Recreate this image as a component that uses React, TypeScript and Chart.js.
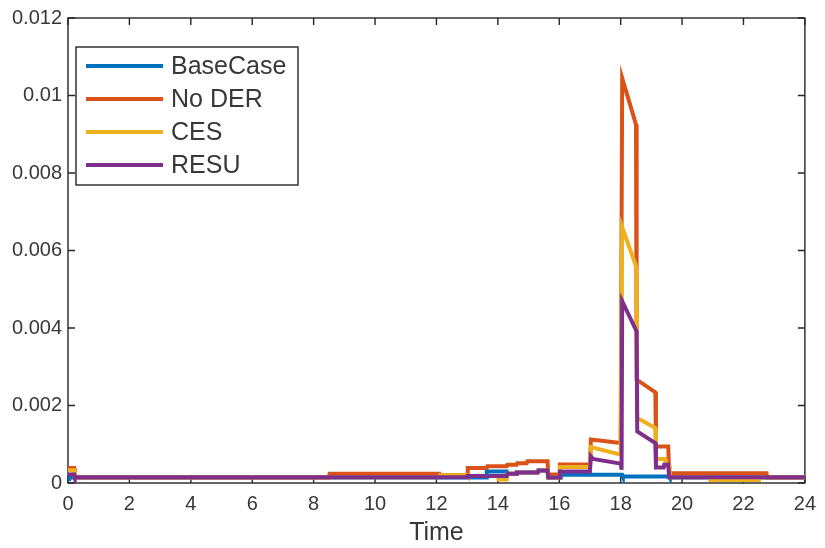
import { useEffect, useRef } from 'react';
import { Chart, registerables } from 'chart.js';

Chart.register(...registerables);

// Series names and MATLAB default line colours
const seriesLabels = ['BaseCase', 'No DER', 'CES', 'RESU'];
const seriesColors = ['#0072BD', '#D95319', '#EDB120', '#7E2F8E'];

// Time in hours, values per series
const baseCaseTime = [0, 0.05, 0.07, 13.62, 13.64, 14.29, 14.31, 14.6, 14.62, 15.3, 15.32, 15.62, 15.64, 16.03, 16.05, 18.05, 18.07, 19.58, 19.6, 24];
const baseCaseValue = [0.0001, 0.0001, 0.00014, 0.00014, 0.0003, 0.0003, 0.00024, 0.00024, 0.00027, 0.00027, 0.00032, 0.00032, 0.00014, 0.00014, 0.00021, 0.00021, 0.00017, 0.00017, 0.00014, 0.00014];

const noDerTime = [0, 0.2, 0.22, 8.5, 8.52, 12.1, 12.12, 13.0, 13.02, 13.64, 13.66, 14.29, 14.31, 14.61, 14.63, 14.94, 14.96, 15.62, 15.64, 16.0, 16.02, 17.0, 17.03, 18.0, 18.05, 18.5, 18.52, 19.13, 19.15, 19.55, 19.58, 22.75, 22.77, 24];
const noDerValue = [0.00039, 0.00039, 0.00014, 0.00014, 0.00024, 0.00024, 0.0002, 0.0002, 0.00039, 0.00039, 0.00043, 0.00043, 0.00047, 0.00047, 0.00051, 0.00051, 0.00056, 0.00056, 0.00022, 0.00022, 0.00048, 0.00048, 0.00112, 0.00103, 0.01045, 0.00925, 0.00267, 0.00234, 0.00094, 0.00094, 0.00025, 0.00025, 0.00014, 0.00014];

const cesTime = [0, 0.2, 0.22, 12.1, 12.12, 13.0, 13.02, 14.0, 14.02, 14.29, 14.31, 14.6, 14.62, 15.3, 15.32, 15.62, 15.64, 16.0, 16.02, 17.0, 17.03, 18.0, 18.05, 18.52, 18.54, 19.13, 19.15, 19.45, 19.47, 19.58, 19.6, 20.9, 20.92, 22.48, 22.5, 24];
const cesValue = [0.00033, 0.00033, 0.00015, 0.00015, 0.0002, 0.0002, 0.00018, 0.00018, 0.00009, 0.00009, 0.00024, 0.00024, 0.00027, 0.00027, 0.00032, 0.00032, 0.00014, 0.00014, 0.00041, 0.00041, 0.00093, 0.00073, 0.0066, 0.00555, 0.00168, 0.00142, 0.00062, 0.00062, 0.00045, 0.00045, 0.00015, 0.00015, 0.00008, 0.00008, 0.00015, 0.00015];

const resuTime = [0, 0.2, 0.22, 13.0, 13.02, 14.29, 14.31, 14.6, 14.62, 15.3, 15.32, 15.62, 15.64, 16.0, 16.02, 17.0, 17.03, 17.1, 18.0, 18.03, 18.05, 18.52, 18.54, 19.13, 19.15, 19.4, 19.42, 19.55, 19.58, 24];
const resuValue = [0.00022, 0.00022, 0.00015, 0.00015, 0.00018, 0.00018, 0.00024, 0.00024, 0.00027, 0.00027, 0.00032, 0.00032, 0.00014, 0.00014, 0.0003, 0.0003, 0.00069, 0.00062, 0.0005, 0.00034, 0.00469, 0.00391, 0.00133, 0.00103, 0.0004, 0.0004, 0.00047, 0.00047, 0.00015, 0.00015];

// Axis ticks
const xTicks = [0, 2, 4, 6, 8, 10, 12, 14, 16, 18, 20, 22, 24];
const xTickLabels = ['0', '2', '4', '6', '8', '10', '12', '14', '16', '18', '20', '22', '24'];
const yTicks = [0, 0.002, 0.004, 0.006, 0.008, 0.01, 0.012];
const yTickLabels = ['0', '0.002', '0.004', '0.006', '0.008', '0.01', '0.012'];

const FONT = 'Liberation Sans, Arial, Helvetica, sans-serif';
const AXIS_COLOR = '#262626';
const LABEL_COLOR = '#383838';

const toPoints = (t: number[], v: number[]) => t.map((x, i) => ({ x, y: v[i] }));

// Boxed axes with inward tick marks on all four sides
const framePlugin = {
  id: 'frame',
  beforeDatasetsDraw(chart: any) {
    const { ctx, chartArea: a, scales } = chart;
    const len = 7;
    ctx.save();
    ctx.strokeStyle = AXIS_COLOR;
    ctx.lineWidth = 1.4;
    ctx.strokeRect(a.left, a.top, a.right - a.left, a.bottom - a.top);
    ctx.beginPath();
    xTicks.forEach((t) => {
      const px = scales.x.getPixelForValue(t);
      ctx.moveTo(px, a.bottom);
      ctx.lineTo(px, a.bottom - len);
      ctx.moveTo(px, a.top);
      ctx.lineTo(px, a.top + len);
    });
    yTicks.forEach((v) => {
      const py = scales.y.getPixelForValue(v);
      ctx.moveTo(a.left, py);
      ctx.lineTo(a.left + len, py);
      ctx.moveTo(a.right, py);
      ctx.lineTo(a.right - len, py);
    });
    ctx.stroke();
    ctx.restore();
  },
};

// Legend box in the upper-left of the plot
const legendPlugin = {
  id: 'boxLegend',
  afterDraw(chart: any) {
    const { ctx } = chart;
    const x0 = 76;
    const y0 = 47;
    const w = 222;
    const h = 138;
    const rowH = 33;
    ctx.save();
    ctx.fillStyle = '#ffffff';
    ctx.fillRect(x0, y0, w, h);
    ctx.strokeStyle = AXIS_COLOR;
    ctx.lineWidth = 1.4;
    ctx.strokeRect(x0, y0, w, h);
    ctx.font = `25px ${FONT}`;
    ctx.textBaseline = 'middle';
    ctx.textAlign = 'left';
    chart.data.datasets.forEach((ds: any, i: number) => {
      const cy = y0 + 19 + i * rowH;
      ctx.strokeStyle = ds.borderColor;
      ctx.lineWidth = 4;
      ctx.beginPath();
      ctx.moveTo(x0 + 10, cy);
      ctx.lineTo(x0 + 87, cy);
      ctx.stroke();
      ctx.fillStyle = LABEL_COLOR;
      ctx.fillText(ds.label, x0 + 95, cy + 1);
    });
    ctx.restore();
  },
};

export default function App() {
  const canvasRef = useRef<HTMLCanvasElement | null>(null);

  useEffect(() => {
    if (!canvasRef.current) return;
    const series = [
      toPoints(baseCaseTime, baseCaseValue),
      toPoints(noDerTime, noDerValue),
      toPoints(cesTime, cesValue),
      toPoints(resuTime, resuValue),
    ];
    const chart = new Chart(canvasRef.current, {
      type: 'line',
      data: {
        datasets: series.map((data, i) => ({
          label: seriesLabels[i],
          data,
          borderColor: seriesColors[i],
          backgroundColor: seriesColors[i],
          borderWidth: 4,
          pointRadius: 0,
          tension: 0,
          fill: false,
          // later series are painted over earlier ones
          order: series.length - 1 - i,
        })),
      },
      options: {
        animation: false,
        responsive: false,
        events: [],
        layout: { padding: { top: 18, right: 15, left: 0, bottom: 0 } },
        plugins: { legend: { display: false }, tooltip: { enabled: false } },
        scales: {
          x: {
            type: 'linear',
            min: 0,
            max: 24,
            grid: { display: false, drawTicks: false },
            border: { display: false },
            afterBuildTicks: (scale: any) => {
              scale.ticks = xTicks.map((value) => ({ value }));
            },
            afterFit: (scale: any) => {
              scale.height = 65;
            },
            ticks: {
              autoSkip: false,
              maxRotation: 0,
              padding: 9,
              color: LABEL_COLOR,
              font: { family: FONT, size: 20 },
              callback: (_v: any, i: number) => xTickLabels[i],
            },
            title: {
              display: true,
              text: 'Time',
              color: LABEL_COLOR,
              font: { family: FONT, size: 25 },
              padding: { top: 0, bottom: 0 },
            },
          },
          y: {
            type: 'linear',
            min: 0,
            max: 0.012,
            grid: { display: false, drawTicks: false },
            border: { display: false },
            afterBuildTicks: (scale: any) => {
              scale.ticks = yTicks.map((value) => ({ value }));
            },
            afterFit: (scale: any) => {
              scale.width = 68;
            },
            ticks: {
              autoSkip: false,
              padding: 6,
              color: LABEL_COLOR,
              font: { family: FONT, size: 20 },
              callback: (_v: any, i: number) => yTickLabels[i],
            },
          },
        },
      },
      plugins: [framePlugin, legendPlugin],
    });
    return () => chart.destroy();
  }, []);

  return (
    <div style={{ position: 'fixed', left: 0, top: 0, width: 825, height: 548, background: '#fff' }}>
      <canvas ref={canvasRef} width={825} height={548} style={{ display: 'block' }} />
    </div>
  );
}
